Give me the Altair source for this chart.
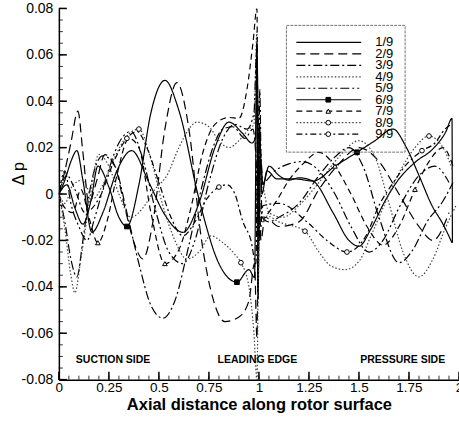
import altair as alt
import pandas as pd

series = ["1/9", "2/9", "3/9", "4/9", "5/9", "6/9", "7/9", "8/9", "9/9"]

x1 = [0, .03, .06, .09, .12, .165, .22, .29, .364, .45, .53, .62, .70, .78, .85, .92, .965, .982, .992, 1.0,
      1.008, 1.02, 1.05, 1.1, 1.15, 1.2, 1.27, 1.37, 1.45, 1.5, 1.56, 1.63, 1.70, 1.785, 1.87, 1.935, 1.965, 1.967]
y1 = [0, .006, .014, .0187, .006, -.0165, -.008, .01, .0187, .005, -.009, -.0165, -.004, .02, .031, .026, .022, .024, .055, -.02,
      .015, .004, .012, .008, .006, .007, .0056, -.008, -.02, -.0225, -.015, -.003, .0065, .014, .0195, .027, .0326, -.021]

x2 = [0, .03, .06, .095, .12, .15, .19, .23, .28, .33, .38, .42, .47, .53, .59, .65, .71, .77, .83, .90,
      .95, .978, .99, 1.0, 1.01, 1.03, 1.1, 1.2, 1.3, 1.4, 1.5, 1.6, 1.7, 1.8, 1.87, 1.95]
y2 = [0, .01, .022, .0357, .018, -.004, .006, .017, .012, -.006, -.022, -.028, -.012, .028, .048, .028, -.018, -.045, -.055, -.053,
      -.046, -.03, -.062, .01, -.02, -.01, -.014, -.012, .002, .013, .02, .014, .0, -.014, -.02, -.008]

x3 = [0, .03, .06, .09, .12, .16, .22, .28, .34, .40, .46, .52, .58, .65, .72, .77, .82, .87, .93, .97,
      .988, .996, 1.004, 1.015, 1.05, 1.1, 1.2, 1.3, 1.38, 1.45, 1.52, 1.6, 1.70, 1.77, 1.84, 1.92, 1.97]
y3 = [0, -.012, -.028, -.0357, -.02, .004, .0165, .012, -.008, -.03, -.048, -.0535, -.046, -.022, .005, .02, .028, .029, .024, .028,
      .01, -.045, .045, -.01, -.012, -.01, -.004, .008, .016, .02, .012, -.01, -.0296, -.024, -.012, -.003, .005]

x4 = [0, .03, .06, .08, .11, .15, .2, .25, .3, .36, .42, .48, .54, .6, .65, .69, .75, .8, .85, .9,
      .95, .975, .99, .997, 1.005, 1.02, 1.05, 1.12, 1.2, 1.3, 1.4, 1.5, 1.58, 1.65, 1.72, 1.8, 1.87, 1.93, 1.985]
y4 = [0, -.015, -.035, -.0426, -.028, -.005, .017, .012, .0, -.01, -.006, .002, .008, .02, .028, .031, .029, .023, .02, .023,
      .028, .03, .07, -.01, .005, .003, -.008, -.01, -.005, .005, .016, .023, .016, -.004, -.025, -.0357, -.028, -.015, -.005]

x5 = [0, .03, .06, .1, .14, .18, .24, .3, .36, .42, .48, .55, .62, .68, .75, .82, .88, .94, .975, .99,
      .998, 1.006, 1.02, 1.08, 1.15, 1.22, 1.3, 1.38, 1.46, 1.55, 1.62, 1.7, 1.8, 1.88, 1.95]
y5 = [0, .01, -.004, -.014, -.02, -.01, .008, .022, .027, .015, -.006, -.025, -.03, -.02, .005, .024, .03, .028, .035, .065,
      -.01, .02, .005, .01, .013, .014, .01, .0, -.014, -.025, -.02, -.006, .008, .012, .005]

x6 = [0, .04, .08, .12, .16, .195, .25, .30, .34, .40, .46, .53, .60, .70, .80, .89, .95, .978, .99, .996,
      1.003, 1.015, 1.04, 1.09, 1.18, 1.27, 1.38, 1.49, 1.58, 1.67, 1.735, 1.8, 1.865, 1.92, 1.965]
y6 = [0, .004, -.006, -.013, -.003, .012, .003, -.01, -.014, .004, .035, .049, .036, -.002, -.03, -.038, -.0326, -.036, .065, -.045,
      .03, .0, .01, .0065, .0065, .0056, .012, .018, .023, .028, .0204, .008, -.005, -.013, -.021]

x7 = [0, .03, .07, .11, .15, .195, .24, .29, .35, .40, .46, .53, .60, .66, .72, .78, .85, .90, .94, .97,
      .99, .996, 1.004, 1.02, 1.08, 1.15, 1.22, 1.3, 1.38, 1.46, 1.54, 1.62, 1.7, 1.78, 1.85, 1.92, 1.97]
y7 = [0, -.006, -.008, .002, -.01, -.021, -.012, .008, .024, .02, -.008, -.03, -.024, -.006, .018, .03, .033, .0326, .045, .065,
      .08, .0, -.01, -.01, -.004, .006, .013, .018, .012, .0, -.014, -.022, -.014, .002, .014, .02, .012]

x8 = [0, .03, .07, .12, .17, .22, .28, .34, .40, .46, .52, .58, .64, .70, .76, .82, .88, .91, .95, .975,
      .99, .997, 1.005, 1.02, 1.04, 1.1, 1.23, 1.3, 1.36, 1.43, 1.5, 1.56, 1.62, 1.7, 1.78, 1.85, 1.92, 1.97]
y8 = [0, -.004, .004, .006, -.002, .004, .016, .025, .028, .015, -.005, -.02, -.028, -.025, -.018, -.021, -.026, -.0296, -.04, -.06,
      -.08, -.035, -.01, -.012, -.0095, -.012, -.016, -.025, -.031, -.0326, -.029, -.018, -.006, .009, .02, .025, .02, .01]

x9 = [0, .04, .08, .13, .2, .28, .34, .39, .44, .5, .56, .62, .68, .74, .80, .84, .88, .92, .96, .985,
      .995, 1.003, 1.02, 1.1, 1.24, 1.34, 1.44, 1.535, 1.6, 1.68, 1.73, 1.815, 1.88, 1.93, 1.96]
y9 = [0, .008, .002, -.008, -.002, .015, .024, .027, .02, .005, -.01, -.018, -.012, -.002, .003, .004, .0, -.012, -.02, -.03,
      .04, -.02, -.005, -.004, -.012, -.02, -.025, -.018, -.005, .006, .012, .0187, .022, .028, .03]

# indices of points that carry a marker (series 6/9 .. 9/9)
marker_idx = {"6/9": [8, 15, 27], "7/9": [5, 11, 28, 33], "8/9": [8, 17, 26, 35], "9/9": [6, 14, 26, 31]}

x_ticks = [0, 0.25, 0.5, 0.75, 1, 1.25, 1.5, 1.75, 2]
y_ticks = [-0.08, -0.06, -0.04, -0.02, 0, 0.02, 0.04, 0.06, 0.08]
x_minor = [round(i * 0.05, 3) for i in range(0, 41)]
y_minor = [round(-0.08 + i * 0.005, 4) for i in range(0, 33)]

xs = [x1, x2, x3, x4, x5, x6, x7, x8, x9]
ys = [y1, y2, y3, y4, y5, y6, y7, y8, y9]

rows = []
mrows = []
for s, xx, yy in zip(series, xs, ys):
    for i, (a, b) in enumerate(zip(xx, yy)):
        rows.append({"series": s, "i": i, "x": a, "y": b})
        if i in marker_idx.get(s, []):
            mrows.append({"series": s, "x": a, "y": b})
df = pd.DataFrame(rows)
mdf = pd.DataFrame(mrows)

dash_range = [[1, 0], [9, 5], [9, 3, 2, 3], [1.5, 2], [9, 3, 2, 3, 2, 3], [1, 0], [6, 4], [1.5, 2], [6, 3, 2, 3]]
color_range = ["#000", "#000", "#000", "#444", "#000", "#000", "#000", "#444", "#000"]
dash_scale = alt.Scale(domain=series, range=dash_range)
color_scale = alt.Scale(domain=series, range=color_range)
mk_series = ["6/9", "7/9", "8/9", "9/9"]
mk_shapes = ["square", "triangle-up", "circle", "circle"]
mk_fills = ["black", "white", "white", "white"]
shape_scale = alt.Scale(domain=mk_series, range=mk_shapes)
fill_scale = alt.Scale(domain=mk_series, range=mk_fills)

FONT = "Liberation Sans"
xsc = alt.Scale(domain=[0, 2], nice=False, zero=False)
ysc = alt.Scale(domain=[-0.08, 0.08], nice=False, zero=False)

x_axis = alt.Axis(values=x_ticks, labelExpr="format(datum.value, '.3~g')", ticks=False, grid=False,
                  labelFont=FONT, labelFontSize=13.5,
                  labelColor="black", domainColor="black", domainWidth=1.5, labelPadding=1,
                  title="Axial distance along rotor surface", titleFont=FONT, titleFontSize=16.5,
                  titleFontWeight="bold", titleColor="black", titleY=30, titleBaseline="alphabetic",
                  labelFlush=False)
y_axis = alt.Axis(values=y_ticks, ticks=False, grid=False, labelFont=FONT, labelFontSize=14,
                  labelColor="black", domainColor="black", domainWidth=1.5, labelPadding=6,
                  labelExpr="datum.value == 0 ? '0' : (datum.value < 0 ? '-' : '') + format(abs(datum.value), '.2f')",
                  title="Δ p", titleFont=FONT, titleFontSize=16, titleFontWeight="normal", titleColor="black",
                  titleX=-32, titleY=165)


def X(field):
    return alt.X(field, scale=xsc, axis=x_axis)


def Y(field):
    return alt.Y(field, scale=ysc, axis=y_axis)


lines = alt.Chart(df).mark_line(interpolate="monotone", strokeWidth=1.2, clip=True).encode(
    x=X("x:Q"), y=Y("y:Q"),
    detail="series:N",
    order="i:Q",
    strokeDash=alt.StrokeDash("series:N", scale=dash_scale, legend=None),
    color=alt.Color("series:N", scale=color_scale, legend=None),
)

markers = alt.Chart(mdf).mark_point(size=22, strokeWidth=1, opacity=1, color="black").encode(
    x=X("x:Q"), y=Y("y:Q"),
    shape=alt.Shape("series:N", scale=shape_scale, legend=None),
    fill=alt.Fill("series:N", scale=fill_scale, legend=None),
)

ymaj = alt.Chart(pd.DataFrame({"y": y_ticks})).mark_rule(color="black", strokeWidth=1.5).encode(
    y=Y("y:Q"), x=alt.value(0), x2=alt.value(8))
ymin = alt.Chart(pd.DataFrame({"y": y_minor})).mark_rule(color="black", strokeWidth=0.8).encode(
    y=Y("y:Q"), x=alt.value(0), x2=alt.value(4))
xmaj = alt.Chart(pd.DataFrame({"x": x_ticks})).mark_rule(color="black", strokeWidth=1.5).encode(
    x=X("x:Q"), y=alt.value(372), y2=alt.value(364))
xmin = alt.Chart(pd.DataFrame({"x": x_minor})).mark_rule(color="black", strokeWidth=0.8).encode(
    x=X("x:Q"), y=alt.value(372), y2=alt.value(368))


def note(txt, px):
    return alt.Chart(pd.DataFrame({"t": [txt]})).mark_text(
        font=FONT, fontSize=10.5, fontWeight="bold", align="left", baseline="alphabetic", color="black"
    ).encode(text="t:N", x=alt.value(px), y=alt.value(355))


layers = [lines, markers, ymaj, ymin, xmaj, xmin,
          note("SUCTION SIDE", 17), note("LEADING EDGE", 159), note("PRESSURE SIDE", 302)]

# legend box and entries (drawn in pixel space, no scales)
layers.append(alt.Chart(pd.DataFrame({"a": [0]})).mark_rect(
    fillOpacity=0, stroke="#555", strokeWidth=0.8, strokeDash=[3, 1]).encode(
    x=alt.value(228), x2=alt.value(347), y=alt.value(17), y2=alt.value(144)))
row_top, row_gap = 34, 11.5
for k, s in enumerate(series):
    yy = row_top + k * row_gap
    layers.append(alt.Chart(pd.DataFrame({"series": [s]})).mark_rule(
        strokeWidth=1.2, color=color_range[k], strokeDash=dash_range[k]).encode(
        x=alt.value(238), x2=alt.value(303), y=alt.value(yy)))
    layers.append(alt.Chart(pd.DataFrame({"series": [s]})).mark_text(
        font=FONT, fontSize=13, align="left", baseline="middle", color="black").encode(
        x=alt.value(317), y=alt.value(yy), text="series:N"))
    if s in mk_series:
        j = mk_series.index(s)
        layers.append(alt.Chart(pd.DataFrame({"series": [s]})).mark_point(
            size=22, strokeWidth=1, opacity=1, color="black", shape=mk_shapes[j], fill=mk_fills[j]).encode(
            x=alt.value(270), y=alt.value(yy)))

chart = alt.layer(*layers).properties(
    width=401, height=372,
    padding={"left": 59, "top": 8, "right": 0, "bottom": 41},
    autosize=alt.AutoSizeParams(type="none"),
    background="white",
).configure_view(stroke=None)

chart.save("out.html", embed_options={"renderer": "svg", "actions": False})
